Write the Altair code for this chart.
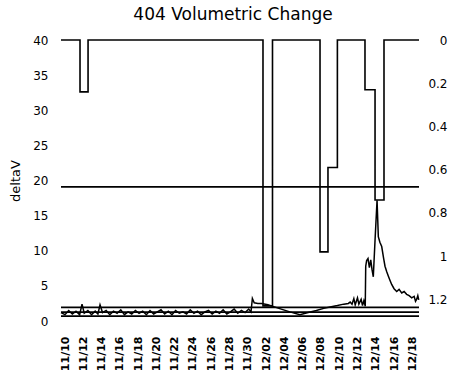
import altair as alt
import pandas as pd

BASE = pd.Timestamp("2023-11-10 00:00:00")

# deltaV series (left axis): day offsets from 11/10 and values
dv_days_flat = [-0.44, 0.0, 0.4, 0.8, 1.2, 1.6, 1.86, 2.1, 2.5, 2.9,
                3.3, 3.6, 3.83, 4.1, 4.5, 4.9, 5.3, 5.7, 6.1, 6.5,
                6.9, 7.3, 7.7, 8.1, 8.5, 8.9, 9.3, 9.7, 10.1, 10.5,
                10.9, 11.3, 11.7, 12.1, 12.5, 12.9, 13.3, 13.7, 14.1, 14.5,
                14.9, 15.3, 15.7, 16.1, 16.5, 16.9, 17.3, 17.7, 18.1, 18.5,
                18.9, 19.3, 19.7, 20.1, 20.35]
dv_vals_flat = [1.2, 0.9, 1.5, 1.0, 1.4, 0.9, 2.4, 1.1, 1.5, 0.9,
                1.4, 1.0, 2.3, 1.2, 1.5, 0.9, 1.4, 1.1, 1.6, 0.9,
                1.3, 1.0, 1.5, 1.1, 1.4, 0.9, 1.5, 1.0, 1.3, 1.6,
                1.0, 1.4, 0.9, 1.5, 1.1, 1.3, 1.0, 1.6, 1.1, 1.4,
                0.9, 1.3, 1.5, 1.0, 1.4, 1.1, 1.6, 1.0, 1.3, 1.7,
                1.1, 1.5, 1.2, 1.7, 1.3]
dv_days_mid = [20.46, 20.5, 20.7, 21.1, 21.5, 22.2, 23.4, 24.6, 25.7, 26.6,
               27.5, 28.3, 29.0, 29.8, 30.5, 31.0, 31.2, 31.4, 31.6, 31.75,
               32.0, 32.15, 32.4, 32.55, 32.7, 32.85]
dv_vals_mid = [2.7, 3.2, 2.6, 2.5, 2.5, 2.3, 1.8, 1.3, 0.9, 1.2,
               1.5, 1.8, 2.0, 2.2, 2.4, 2.5, 2.7, 2.4, 3.2, 2.3,
               3.3, 2.4, 3.1, 2.2, 2.9, 2.1]
dv_days_peak = [32.9, 33.0, 33.15, 33.3, 33.45, 33.59, 33.73, 33.92, 34.14, 34.28,
                34.45, 34.65, 34.85, 35.01, 35.2, 35.37, 35.55, 35.74, 36.0, 36.29,
                36.55, 36.84, 37.1, 37.38, 37.65, 37.93, 38.2, 38.35, 38.48, 38.6, 38.7]
dv_vals_peak = [7.8, 8.6, 8.9, 7.6, 8.7, 7.3, 6.3, 11.5, 17.2, 12.0,
                11.2, 10.6, 9.0, 7.8, 7.0, 6.4, 5.8, 5.2, 4.6, 4.2,
                4.5, 4.0, 4.2, 3.8, 3.6, 3.3, 3.5, 2.8, 3.1, 3.6, 3.0]

# step series (right axis, reversed)
step_days = [-0.44, 1.64, 2.52, 21.66, 22.7, 27.9, 28.77, 29.8, 32.82, 33.92, 34.9, 38.73]
step_vals = [0, 0.24, 0, 1.23, 0, 0.98, 0.59, 0, 0.23, 0.74, 0, 0]

# constant reference levels (left axis)
ref_levels = [19.1, 1.95, 1.25, 0.68]

# x tick dates (month, day)
tick_dates = [(11, 10), (11, 12), (11, 14), (11, 16), (11, 18), (11, 20), (11, 22),
              (11, 24), (11, 26), (11, 28), (11, 30), (12, 2), (12, 4), (12, 6),
              (12, 8), (12, 10), (12, 12), (12, 14), (12, 16), (12, 18)]

left_ticks = [0, 5, 10, 15, 20, 25, 30, 35, 40]
right_ticks = [0, 0.2, 0.4, 0.6, 0.8, 1, 1.2]

dv_days = dv_days_flat + dv_days_mid + dv_days_peak
dv_vals = dv_vals_flat + dv_vals_mid + dv_vals_peak
assert len(dv_days) == len(dv_vals)

df_dv = pd.DataFrame({"t": BASE + pd.to_timedelta(dv_days, unit="D"), "v": dv_vals})
df_step = pd.DataFrame({"t": BASE + pd.to_timedelta(step_days, unit="D"), "v": step_vals})
df_ref = pd.DataFrame({"v": ref_levels})

x_start = alt.DateTime(year=2023, month=11, date=9, hours=13, minutes=26)
x_end = alt.DateTime(year=2023, month=12, date=18, hours=17, minutes=31)

x_enc = alt.X(
    "t:T",
    title=None,
    scale=alt.Scale(domain=[x_start, x_end]),
    axis=alt.Axis(
        values=[alt.DateTime(year=2023, month=m, date=d) for m, d in tick_dates],
        format="%m/%d",
        labelAngle=270,
        labelFontSize=11,
        labelFontWeight="bold",
        labelPadding=15,
        ticks=False,
        domain=False,
        grid=False,
        labelOverlap=False,
    ),
)

left_scale = alt.Scale(domain=[0, 40], nice=False, zero=False)
left_axis = alt.Axis(
    values=left_ticks,
    title="deltaV",
    titleFontSize=13,
    titleFontWeight="normal",
    titlePadding=10,
    labelFontSize=12,
    labelPadding=13,
    ticks=False,
    domain=False,
    grid=False,
)

dv_line = alt.Chart(df_dv).mark_line(color="black", strokeWidth=1.5).encode(
    x=x_enc,
    y=alt.Y("v:Q", scale=left_scale, axis=left_axis, title="deltaV"),
)

ref_rules = alt.Chart(df_ref).mark_rule(color="black", strokeWidth=1.8).encode(
    y=alt.Y("v:Q", scale=left_scale, axis=left_axis, title="deltaV"),
)

left = alt.layer(dv_line, ref_rules)

step_line = alt.Chart(df_step).mark_line(
    color="black", strokeWidth=1.6, interpolate="step-after"
).encode(
    x=x_enc,
    y=alt.Y(
        "v:Q",
        scale=alt.Scale(domain=[0, 1.3], reverse=True, nice=False, zero=False),
        axis=alt.Axis(
            orient="right",
            values=right_ticks,
            format="~g",
            title=None,
            labelFontSize=12,
            labelAlign="right",
            labelPadding=28,
            ticks=False,
            domain=False,
            grid=False,
        ),
    ),
)

chart = (
    alt.layer(left, step_line)
    .resolve_scale(y="independent")
    .properties(
        width=358,
        height=281,
        title=alt.TitleParams(
            "404 Volumetric Change",
            fontSize=17,
            fontWeight="normal",
            anchor="middle",
            dx=-7,
            offset=10,
        ),
        autosize=alt.AutoSizeParams(type="none"),
        padding={"left": 61, "top": 40, "right": 30, "bottom": 66},
    )
    .configure(font="DejaVu Sans")
    .configure_view(stroke=None)
    .configure_axis(labelColor="black", titleColor="black", labelFont="DejaVu Sans", titleFont="DejaVu Sans")
    .configure_title(color="black", font="DejaVu Sans")
)

chart.save("out.html", embed_options={"renderer": "svg", "actions": False})
